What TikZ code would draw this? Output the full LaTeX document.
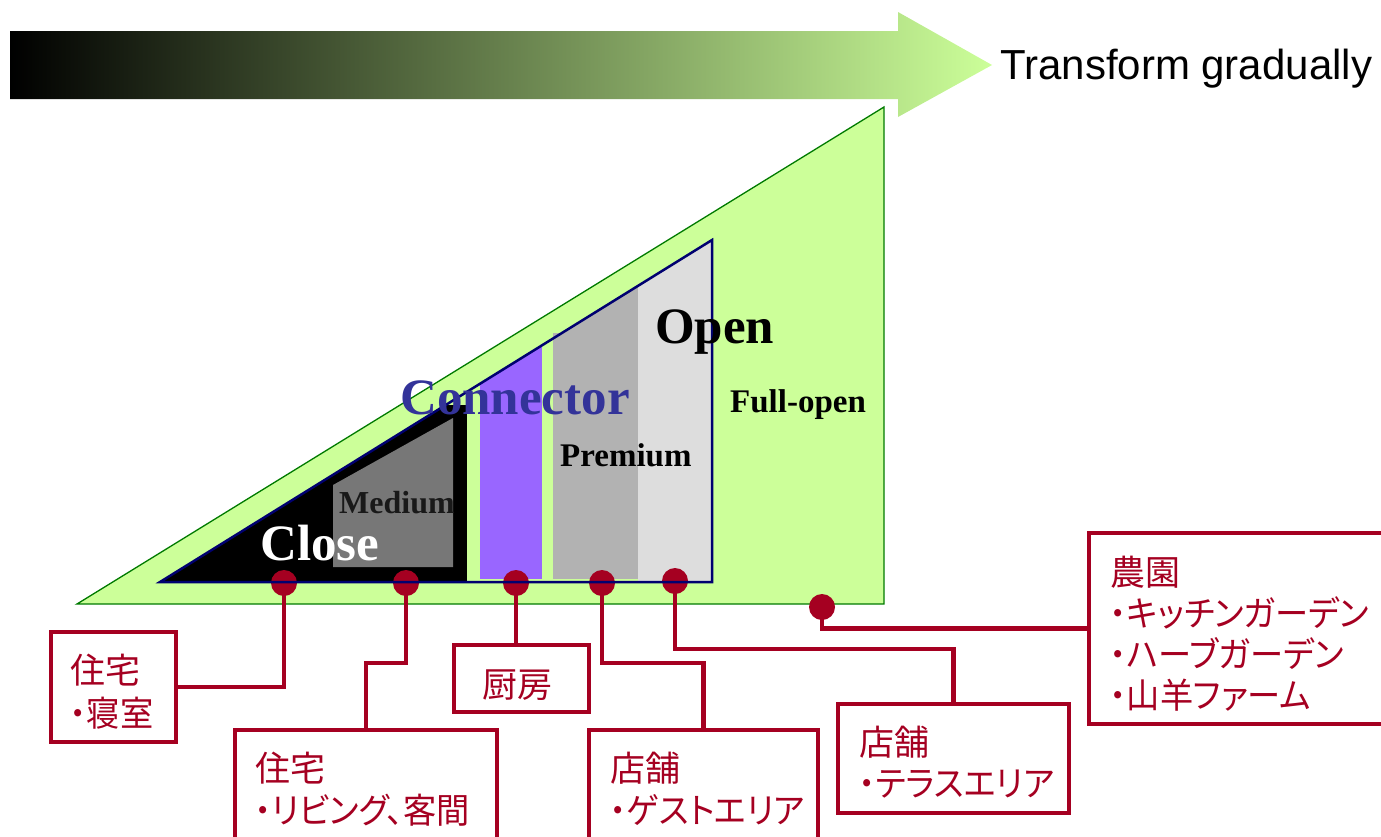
\documentclass[tikz,border=0pt]{standalone}
\usepackage{fontspec}
\setmainfont{Liberation Serif}
\newfontfamily\arialf{Liberation Sans}
\newfontfamily\jpf[RawFeature=+palt]{Noto Sans CJK JP}
\newfontfamily\jpn[RawFeature=+palt, FakeStretch=0.95]{Noto Sans CJK JP}
\usetikzlibrary{calc}
\definecolor{lg}{HTML}{CCFF99}
\definecolor{dgreen}{HTML}{007A00}
\definecolor{navyc}{HTML}{000070}
\definecolor{purp}{HTML}{9966FF}
\definecolor{grayb}{HTML}{B2B2B2}
\definecolor{grayl}{HTML}{DDDDDD}
\definecolor{graym}{HTML}{777777}
\definecolor{conc}{HTML}{333399}
\definecolor{redc}{HTML}{A50021}
\tikzset{
  box/.style={draw=redc, line width=4.5pt, rectangle, inner sep=0pt},
  conn/.style={draw=redc, line width=4.5pt},
  dot/.style={circle, fill=redc, inner sep=0pt, minimum width=25pt, minimum height=26pt},
  jt/.style={font=\jpf\fontsize{35}{42}\selectfont, text=redc, anchor=base west, inner sep=0pt},
  jl/.style={font=\jpn\fontsize{35}{42}\selectfont, text=redc, anchor=base west, inner sep=0pt},
  lbl/.style={anchor=base west, inner sep=0pt, font=\bfseries},
}
\begin{document}
\begin{tikzpicture}[x=1pt,y=-1pt]
\useasboundingbox (0,0) rectangle (1381,836);
% gradient arrow
\shade[left color=black, right color=lg] (10,31) -- (898,31) -- (898,12) -- (992,65) -- (898,117) -- (898,99) -- (10,99) -- cycle;
\node[anchor=base west, inner sep=0pt, font=\arialf\fontsize{42}{50}\selectfont] (tg) at (1000,79) {Transform gradually};
% outer triangle
\filldraw[fill=lg, draw=dgreen, line width=1.3pt] (77,604) -- (884,604) -- (884,107) -- cycle;
% inner regions
\fill[grayb] (553,333) rectangle (562,345);
\begin{scope}
  \clip (160,582) -- (712,582) -- (712,240) -- cycle;
  \fill[black] (150,405) rectangle (467,590);
  \fill[purp] (480,300) rectangle (542,579);
  \fill[grayb] (553,250) rectangle (638,579);
  \fill[grayl] (638,230) rectangle (712,590);
\end{scope}
\fill[graym] (333,567) -- (333,485) -- (453,418) -- (453,567) -- cycle;
% boxes
\node[box, minimum width=125pt, minimum height=110pt] (b1) at (113.5,687) {};
\node[box, minimum width=262pt, minimum height=130pt] (b2) at (366,795) {};
\node[box, minimum width=135pt, minimum height=67pt] (b3) at (521.5,678.5) {};
\node[box, minimum width=229pt, minimum height=130pt] (b4) at (703.5,795) {};
\node[box, minimum width=231pt, minimum height=109pt] (b5) at (953.5,758.5) {};
\node[box, minimum width=331pt, minimum height=191pt] (b6) at (1254.5,628.5) {};
% dots
\node[dot] (d1) at (284,583) {};
\node[dot] (d2) at (406,583) {};
\node[dot] (d3) at (516,583) {};
\node[dot] (d4) at (602,583) {};
\node[dot] (d5) at (675,581) {};
\node[dot] (d6) at (822,607) {};
\coordinate (k2) at (366,663);
\coordinate (k4) at (703.5,663);
\coordinate (k5) at (953.5,649);
% connectors
\draw[conn] (d1.center) |- (b1.east);
\draw[conn] (d2.center) |- (k2) -- (b2.north);
\draw[conn] (d3.center) -- (d3.center |- b3.north);
\draw[conn] (d4.center) |- (k4) -- (b4.north);
\draw[conn] (d5.center) |- (k5) -- (b5.north);
\draw[conn] (d6.center) |- (b6.west);
% navy triangle outline
\draw[navyc, line width=2.5pt, line join=miter] (160,582) -- (712,582) -- (712,240) -- cycle;
% labels
\node[lbl, font=\bfseries\fontsize{32}{38}\selectfont, text=black!90] (lmed) at (339,513) {Medium};
\node[lbl, font=\bfseries\fontsize{51}{60}\selectfont, text=white] (lclose) at (260,560) {Close};
\node[lbl, font=\bfseries\fontsize{51}{60}\selectfont, text=conc] (lcon) at (400,414) {Connector};
\node[lbl, font=\bfseries\fontsize{33}{40}\selectfont] (lprem) at (560,466) {Premium};
\node[lbl, font=\bfseries\fontsize{51}{60}\selectfont] (lopen) at (655,343) {Open};
\node[lbl, font=\bfseries\fontsize{33}{40}\selectfont] (lfull) at (730,412) {Full-open};
% box texts
\node[jt] (t1a) at (70,683) {住宅};
\node[jl] (t1b) at (70,726) {・寝室};
\node[jt] (t2a) at (255,781) {住宅};
\node[jl] (t2b) at (255,823) {・リビング、客間};
\node[jt] (t3a) at (482,697) {厨房};
\node[jt] (t4a) at (610,781) {店舗};
\node[jl] (t4b) at (610,823) {・ゲストエリア};
\node[jt] (t5a) at (859,755) {店舗};
\node[jl] (t5b) at (859,796) {・テラスエリア};
\node[jt] (t6a) at (1110,585) {農園};
\node[jl] (t6b) at (1110,626) {・キッチンガーデン};
\node[jl] (t6c) at (1110,667) {・ハーブガーデン};
\node[jl] (t6d) at (1110,708) {・山羊ファーム};
\end{tikzpicture}
\end{document}
